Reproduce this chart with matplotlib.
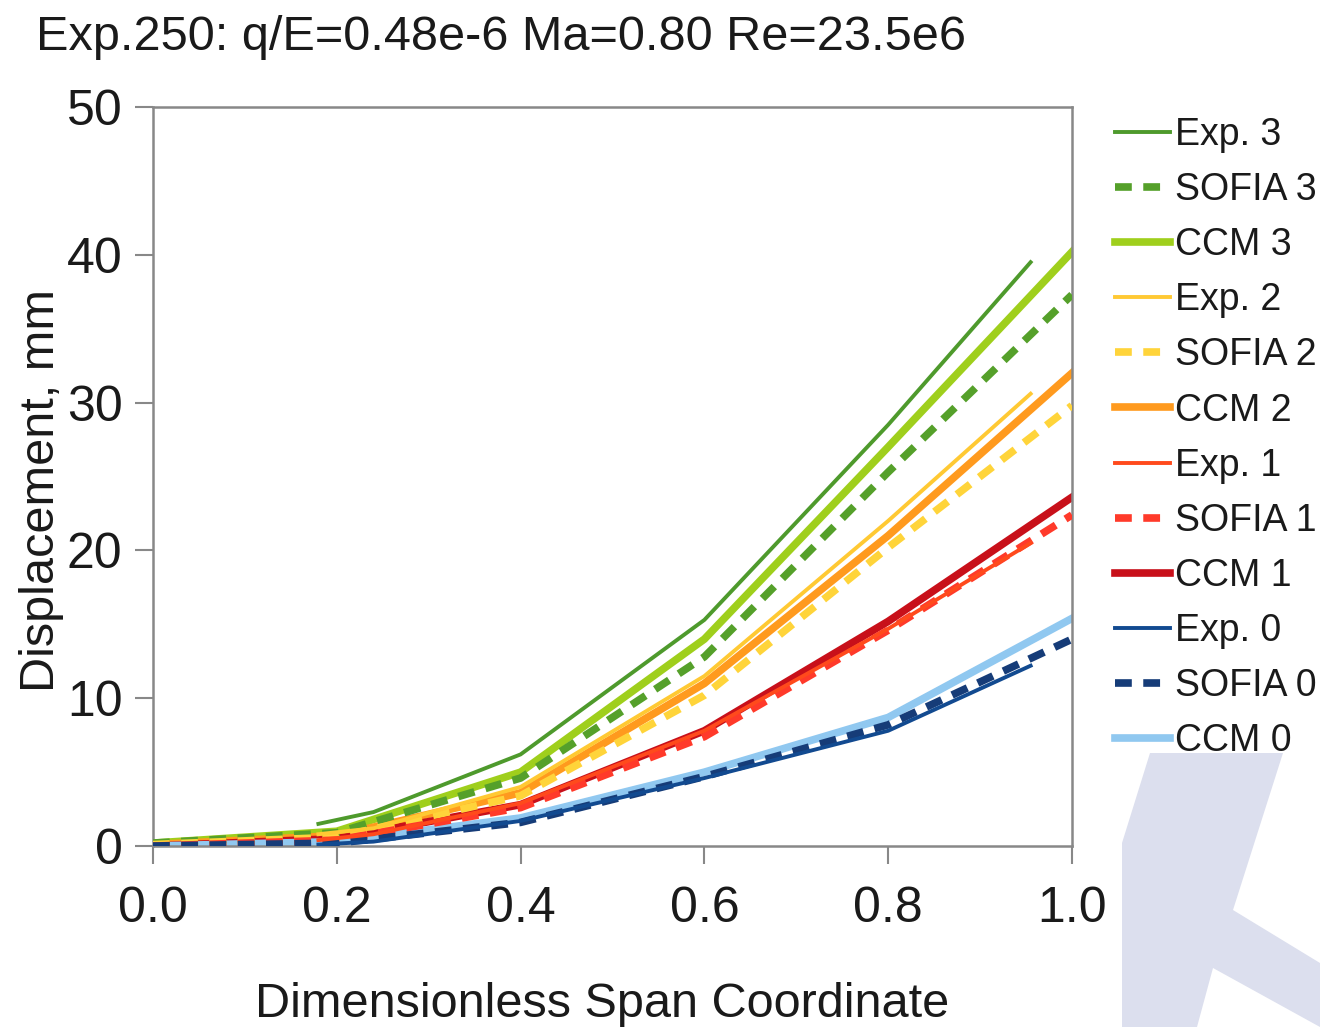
import matplotlib
matplotlib.use('Agg')
import matplotlib.pyplot as plt
from matplotlib.patches import Polygon

plt.rcParams['font.family'] = ['Liberation Sans', 'DejaVu Sans']

# data
x_model = [0.0, 0.2, 0.4, 0.6, 0.8, 1.0]
x_exp = [0.18, 0.24, 0.4, 0.6, 0.8, 0.955]

exp3 = [1.5, 2.3, 6.2, 15.3, 28.5, 39.5]
sofia3 = [0.2, 0.9, 4.6, 12.8, 25.3, 37.3]
ccm3 = [0.2, 1.0, 5.0, 14.0, 27.0, 40.2]
exp2 = [0.8, 1.2, 4.0, 11.5, 22.0, 30.6]
sofia2 = [0.1, 0.6, 3.4, 10.2, 20.2, 29.8]
ccm2 = [0.1, 0.7, 3.6, 11.0, 21.0, 32.0]
exp1 = [0.4, 0.8, 2.9, 7.8, 14.7, 20.5]
sofia1 = [0.0, 0.4, 2.6, 7.4, 14.6, 22.4]
ccm1 = [0.0, 0.5, 2.8, 7.8, 15.2, 23.6]
exp0 = [0.1, 0.3, 1.7, 4.6, 7.8, 12.2]
sofia0 = [0.0, 0.2, 1.6, 4.7, 8.2, 14.0]
ccm0 = [0.0, 0.3, 1.9, 5.0, 8.7, 15.4]

labels = ['Exp. 3', 'SOFIA 3', 'CCM 3', 'Exp. 2', 'SOFIA 2', 'CCM 2',
          'Exp. 1', 'SOFIA 1', 'CCM 1', 'Exp. 0', 'SOFIA 0', 'CCM 0']
colors = ['#4e9a2c', '#55a02a', '#9fcf1c', '#ffc933', '#ffd43a', '#ff9a1e',
          '#ff4a1c', '#ff3a2a', '#c8101a', '#124a90', '#163c78', '#90c8f0']

fig = plt.figure(figsize=(13.2, 10.27), dpi=100)
ax = fig.add_axes([0.1159, 0.1762, 0.6962, 0.7196])

series = [exp3, sofia3, ccm3, exp2, sofia2, ccm2, exp1, sofia1, ccm1, exp0, sofia0, ccm0]
for i, (lab, ys, c) in enumerate(zip(labels, series, colors)):
    kind = i % 3
    if kind == 0:
        ax.plot(x_exp, ys, color=c, lw=2.8, label=lab, zorder=4)
    elif kind == 1:
        ax.plot(x_model, ys, color=c, lw=5.5, ls=(0, (2.2, 1.5)),
                dash_capstyle='butt', label=lab, zorder=3)
    else:
        ax.plot(x_model, ys, color=c, lw=5.5, label=lab, zorder=2)

ax.set_xlim(0, 1)
ax.set_ylim(0, 50)
ax.set_xticks([0.0, 0.2, 0.4, 0.6, 0.8, 1.0])
ax.set_xticklabels(['0.0', '0.2', '0.4', '0.6', '0.8', '1.0'])
ax.set_yticks([0, 10, 20, 30, 40, 50])
ax.tick_params(labelsize=36, length=13, width=1.5, color='#888888', pad=9,
               labelcolor='#1a1a1a')
ax.tick_params(axis='x', pad=16)
for s in ax.spines.values():
    s.set_color('#888888')
    s.set_linewidth(1.8)

ax.set_xlabel('Dimensionless Span Coordinate', fontsize=35, color='#1a1a1a')
ax.xaxis.set_label_coords(0.4886, -0.184)
ax.set_ylabel('Displacement, mm', fontsize=35, color='#1a1a1a')
ax.yaxis.set_label_coords(-0.097, 0.4817)
fig.text(0.027, 0.963, 'Exp.250: q/E=0.48e-6 Ma=0.80 Re=23.5e6', fontsize=35,
         va='center', ha='left', color='#1a1a1a')

ax.legend(loc='upper left', bbox_to_anchor=(1115 / 1320, 1 - 117 / 1027),
          bbox_transform=fig.transFigure, frameon=False, fontsize=27,
          handlelength=1.47, handletextpad=0.13, labelspacing=0.51,
          borderaxespad=0, borderpad=0, labelcolor='#1a1a1a')

# watermark shape in the lower right corner
K = [(1150, 753), (1283, 753), (1233, 910), (1320, 963), (1320, 1027),
     (1213, 968), (1197, 1027), (1122, 1027), (1122, 843)]
fig.patches.append(Polygon([(px / 1320, 1 - py / 1027) for px, py in K],
                           closed=True, transform=fig.transFigure,
                           facecolor='#dcdfee', edgecolor='none', zorder=-1))

fig.savefig('out.png', dpi=100)
